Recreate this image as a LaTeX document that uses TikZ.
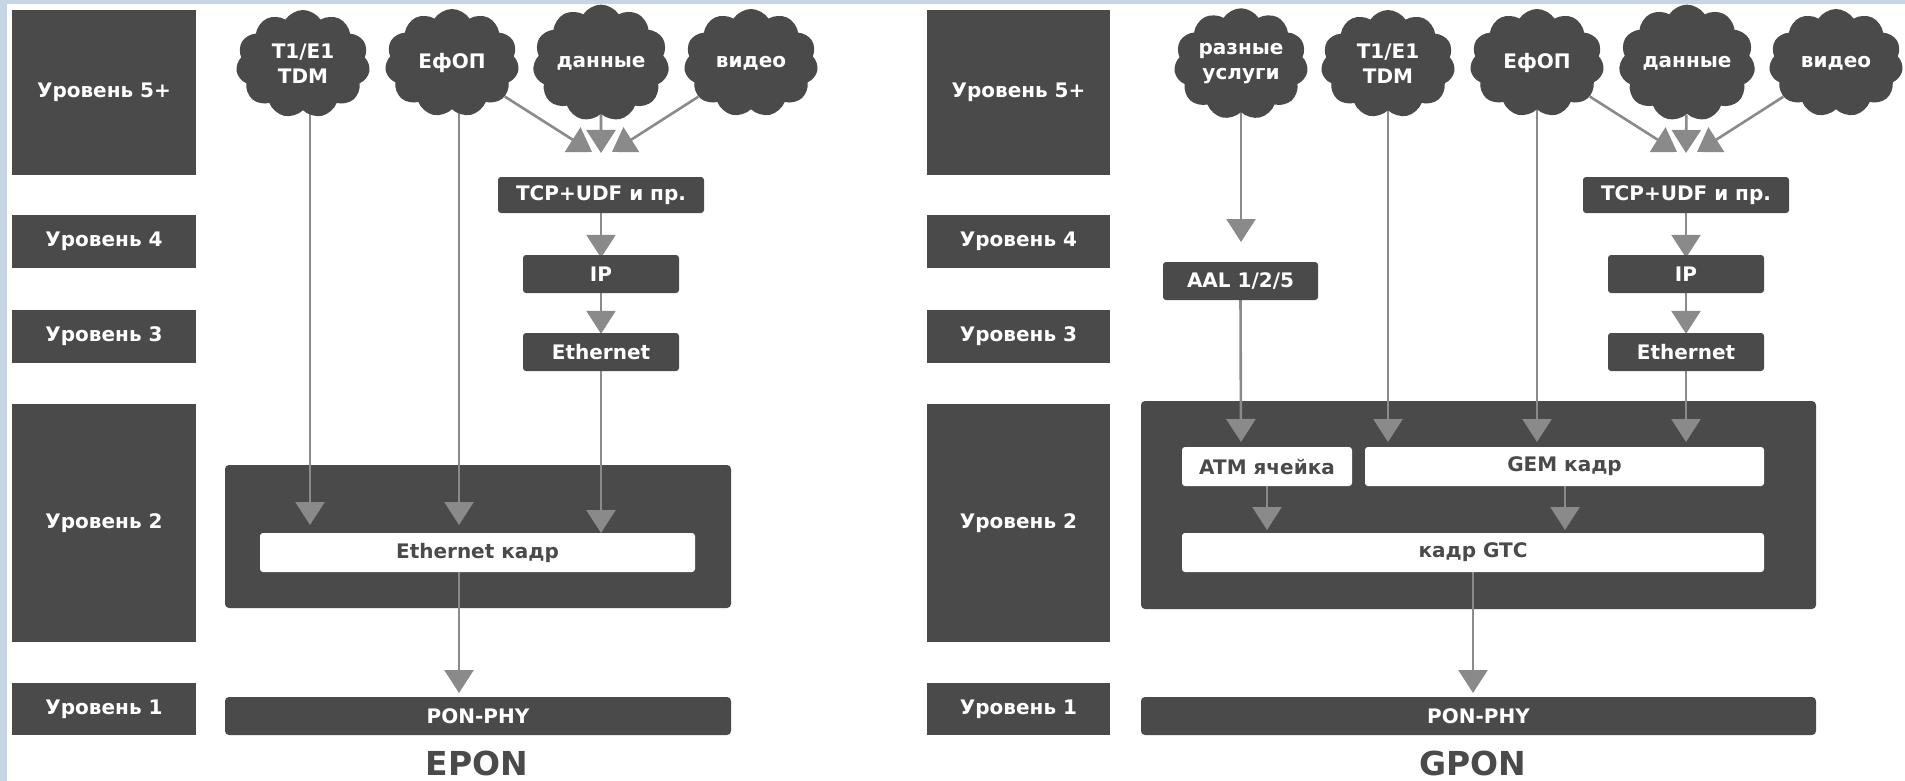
\documentclass[tikz,border=0pt]{standalone}
\usepackage{fontspec}
\setmainfont{DejaVu Sans}
\usetikzlibrary{shapes.symbols,arrows.meta}
\pgfdeclarelayer{back}
\pgfdeclarelayer{front}
\pgfsetlayers{back,main,front}
\definecolor{boxgray}{HTML}{4A4A4A}
\definecolor{arrgray}{HTML}{8A8A8A}
\definecolor{edgeblue}{HTML}{C6D5E3}
\begin{document}
\begin{tikzpicture}[x=1pt,y=-1pt,
  txt/.style={font=\fontsize{20}{25}\selectfont\bfseries},
  lvl/.style={txt, fill=boxgray, text=white, minimum width=184pt, minimum height=53pt, inner sep=0pt},
  dbox/.style={txt, fill=boxgray, rounded corners=3pt, text=white, inner sep=0pt, minimum height=38pt},
  wbox/.style={txt, fill=white, rounded corners=3pt, text=boxgray, inner sep=0pt, minimum height=39pt},
  bigbox/.style={fill=boxgray, rounded corners=4pt, inner sep=0pt},
  cld/.style={txt, cloud, cloud puffs=11, cloud puff arc=115, aspect=1.24, fill=boxgray, text=white,
    minimum width=134pt, minimum height=108pt, inner sep=0pt, align=center},
  title/.style={font=\fontsize{33}{38}\selectfont\bfseries, text=boxgray, inner sep=0pt},
  arr/.style={draw=arrgray, line width=2.6pt, -{Triangle[width=29pt,length=23pt]}, arrgray}
]
\useasboundingbox (0,0) rectangle (1905,781);
\begin{pgfonlayer}{back}
\fill[white] (0,0) rectangle (1905,781);
\fill[edgeblue] (0,0) rectangle (1905,4.5);
\fill[edgeblue] (0,0) rectangle (7,781);
% big level-2 boxes
\node[bigbox, minimum width=506pt, minimum height=143pt] (l2boxa) at (478,536.5) {};
\node[bigbox, minimum width=675pt, minimum height=208pt] (l2boxb) at (1478.5,505) {};
\end{pgfonlayer}

\begin{pgfonlayer}{front}
% level labels EPON
\node[lvl, minimum height=165pt] (l5a) at (104,92.5) {Уровень 5+};
\node[lvl] (l4a) at (104,241.5) {Уровень 4};
\node[lvl] (l3a) at (104,336.5) {Уровень 3};
\node[lvl, minimum height=238pt] (l2a) at (104,523) {Уровень 2};
\node[lvl, minimum height=52pt] (l1a) at (104,709) {Уровень 1};
% level labels GPON
\node[lvl, minimum width=183pt, minimum height=165pt] (l5b) at (1018.5,92.5) {Уровень 5+};
\node[lvl, minimum width=183pt] (l4b) at (1018.5,241.5) {Уровень 4};
\node[lvl, minimum width=183pt] (l3b) at (1018.5,336.5) {Уровень 3};
\node[lvl, minimum width=183pt, minimum height=238pt] (l2b) at (1018.5,523) {Уровень 2};
\node[lvl, minimum width=183pt, minimum height=52pt] (l1b) at (1018.5,709) {Уровень 1};

% EPON clouds
\node[cld] (t1a) at (303,64) {T1/E1\\TDM};
\node[cld] (efa) at (452,63) {ЕфОП};
\node[cld] (dana) at (601,63) {данные};
\node[cld] (vida) at (751,63) {видео};
% EPON stack
\node[dbox, minimum width=206pt, minimum height=36pt] (tcpa) at (601,195) {TCP+UDF и пр.};
\node[dbox, minimum width=156pt] (ipa) at (601,274) {IP};
\node[dbox, minimum width=156pt] (etha) at (601,352) {Ethernet};
\node[wbox, minimum width=435pt] (ethka) at (477.5,552.5) {Ethernet кадр};
\node[dbox, rounded corners=4pt, minimum width=506pt] (pona) at (478,716) {PON-PHY};
\node[title] (epon) at (477,763) {EPON};

% GPON clouds
\node[cld] (rzb) at (1241,64) {разные\\услуги};
\node[cld] (t1b) at (1388,64) {T1/E1\\TDM};
\node[cld] (efb) at (1537,63) {ЕфОП};
\node[cld] (danb) at (1687,63) {данные};
\node[cld] (vidb) at (1836,63) {видео};
% GPON stack
\node[dbox, minimum width=155pt] (aalb) at (1240.5,281) {AAL 1/2/5};
\node[dbox, minimum width=206pt, minimum height=36pt] (tcpb) at (1686,195) {TCP+UDF и пр.};
\node[dbox, minimum width=156pt] (ipb) at (1686,274) {IP};
\node[dbox, minimum width=156pt] (ethb) at (1686,352) {Ethernet};
\node[wbox, minimum width=170pt] (atmb) at (1267,466.5) {ATM ячейка};
\node[wbox, minimum width=399pt] (gemb) at (1564.5,466.5) {GEM кадр};
\node[wbox, minimum width=582pt] (gtcb) at (1473,552.5) {кадр GTC};
\node[dbox, rounded corners=4pt, minimum width=675pt] (ponb) at (1478.5,716) {PON-PHY};
\node[title] (gpon) at (1473,763) {GPON};
\end{pgfonlayer}

% EPON tip coordinates
\coordinate (ta1) at (310,525);
\coordinate (ta2) at (459,525);
\coordinate (ta3) at (601,533);
\coordinate (ta4) at (459,693);
\coordinate (cla) at (592,152);
\coordinate (cma) at (601,153);
\coordinate (cra) at (612,152);
% GPON tip coordinates
\coordinate (tb0) at (1241,242);
\coordinate (tb1) at (1241,442);
\coordinate (tb2) at (1388,442);
\coordinate (tb3) at (1537,442);
\coordinate (tb4) at (1686,442);
\coordinate (tb5) at (1267,530);
\coordinate (tb6) at (1565,530);
\coordinate (tb7) at (1473,693);
\coordinate (clb) at (1677,152);
\coordinate (cmb) at (1686,153);
\coordinate (crb) at (1697,152);

% EPON connectors
\draw[arr] (t1a.center -| ta1) -- (ta1);
\draw[arr] (efa.center -| ta2) -- (ta2);
\draw[arr] (efa) -- (cla);
\draw[arr] (dana) -- (cma);
\draw[arr] (vida) -- (cra);
\draw[arr] (tcpa.south) -- ([yshift=-3pt]ipa.north);
\draw[arr] (ipa.south) -- ([yshift=-1pt]etha.north);
\draw[arr] (etha.south) -- (ta3);
\draw[arr] (ethka.south -| ta4) -- (ta4);

% GPON connectors
\draw[arr] (rzb.center) -- (tb0);
\draw[arr] (aalb.south) -- (tb1);
\draw[arr] (t1b.center -| tb2) -- (tb2);
\draw[arr] (efb.center -| tb3) -- (tb3);
\draw[arr] (ethb.south) -- (tb4);
\draw[arr] (efb) -- (clb);
\draw[arr] (danb) -- (cmb);
\draw[arr] (vidb) -- (crb);
\draw[arr] (tcpb.south) -- ([yshift=-3pt]ipb.north);
\draw[arr] (ipb.south) -- ([yshift=-1pt]ethb.north);
\draw[arr] (atmb.south -| tb5) -- (tb5);
\draw[arr] (gemb.south -| tb6) -- (tb6);
\draw[arr] (gtcb.south) -- (tb7);
\end{tikzpicture}
\end{document}
